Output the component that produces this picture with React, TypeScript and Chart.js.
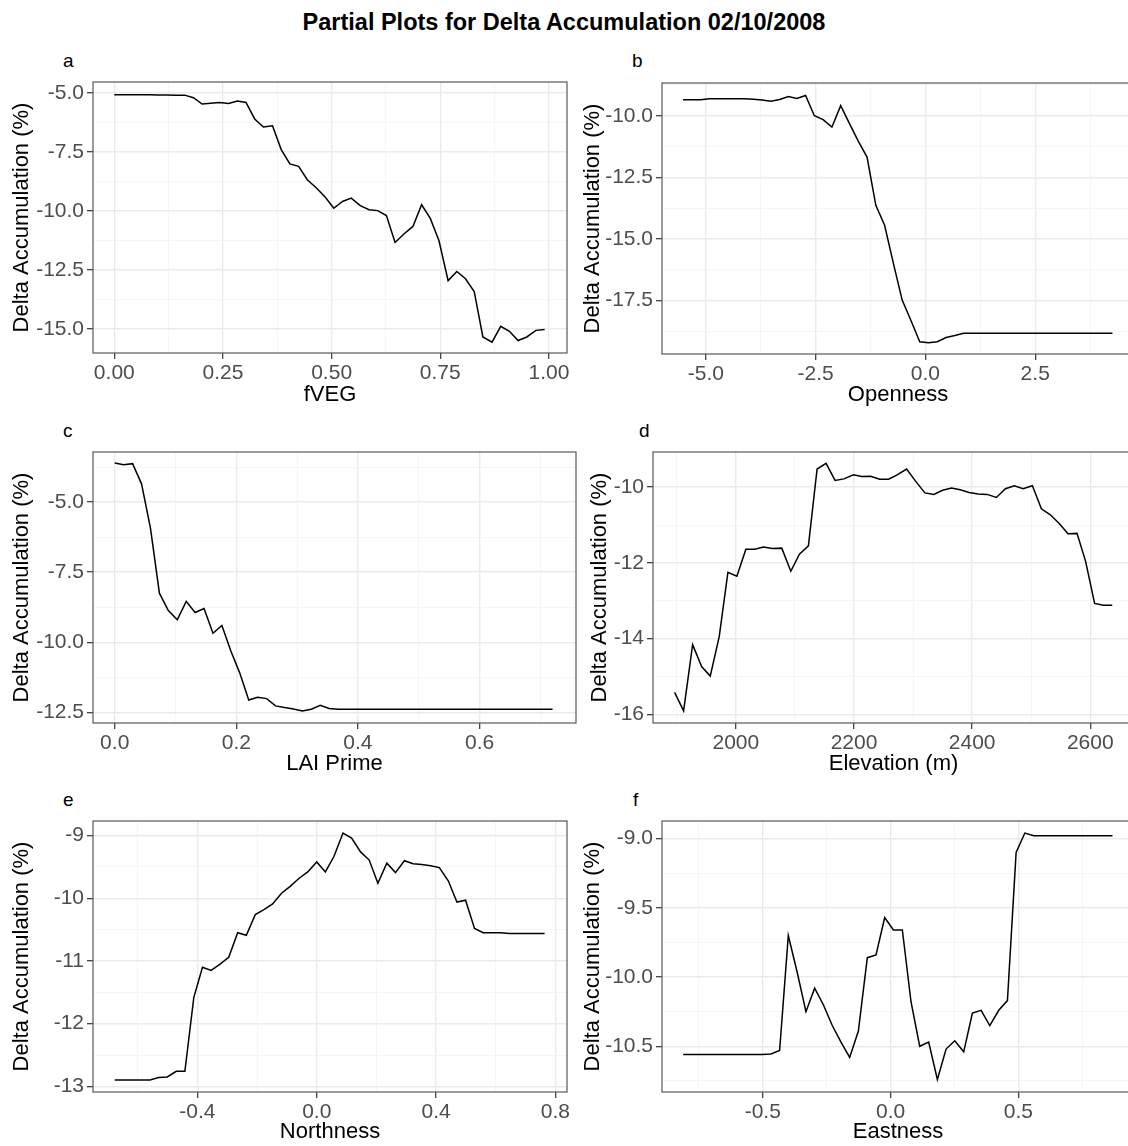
import React, { useEffect, useRef } from "react";
import { Chart, registerables } from "chart.js";
Chart.register(...registerables);

const FONT = '"Liberation Sans", Arial, Helvetica, sans-serif';
const MAIN_TITLE = "Partial Plots for Delta Accumulation 02/10/2008";
const Y_TITLE = "Delta Accumulation (%)";

// a: fVEG
const fvegX = [0, 0.020, 0.040, 0.061, 0.081, 0.101, 0.121, 0.141, 0.162, 0.182, 0.202, 0.222, 0.242, 0.263, 0.283, 0.303, 0.323, 0.343, 0.364, 0.384, 0.404, 0.424, 0.444, 0.465, 0.485, 0.505, 0.525, 0.545, 0.566, 0.586, 0.606, 0.626, 0.646, 0.667, 0.687, 0.707, 0.727, 0.747, 0.768, 0.788, 0.808, 0.828, 0.848, 0.869, 0.889, 0.909, 0.929, 0.949, 0.970, 0.990];
const fvegY = [-5.07, -5.07, -5.07, -5.07, -5.07, -5.08, -5.08, -5.09, -5.09, -5.2, -5.47, -5.43, -5.40, -5.44, -5.34, -5.40, -6.10, -6.44, -6.39, -7.40, -8.01, -8.11, -8.68, -9.03, -9.41, -9.89, -9.60, -9.46, -9.78, -9.95, -9.99, -10.20, -11.34, -10.97, -10.66, -9.74, -10.32, -11.27, -12.96, -12.57, -12.88, -13.42, -15.35, -15.57, -14.90, -15.11, -15.50, -15.35, -15.07, -15.03];
const fvegXTicks = [0, 0.25, 0.5, 0.75, 1.0];
const fvegYTicks = [-15, -12.5, -10, -7.5, -5];

// b: Openness
const openX = [-5.52, -5.32, -5.12, -4.92, -4.72, -4.52, -4.32, -4.12, -3.92, -3.72, -3.52, -3.32, -3.12, -2.93, -2.73, -2.53, -2.33, -2.13, -1.93, -1.73, -1.53, -1.33, -1.13, -0.93, -0.73, -0.53, -0.33, -0.13, 0.07, 0.27, 0.47, 0.67, 0.87, 1.07, 1.27, 1.47, 1.67, 1.87, 2.07, 2.27, 2.47, 2.67, 2.87, 3.07, 3.27, 3.47, 3.67, 3.87, 4.07, 4.26];
const openY = [-9.35, -9.35, -9.35, -9.31, -9.31, -9.31, -9.31, -9.31, -9.33, -9.36, -9.41, -9.34, -9.22, -9.30, -9.18, -10.0, -10.16, -10.46, -9.59, -10.32, -11.03, -11.68, -13.64, -14.45, -16.0, -17.49, -18.32, -19.18, -19.22, -19.18, -19.01, -18.93, -18.84, -18.84, -18.84, -18.84, -18.84, -18.84, -18.84, -18.84, -18.84, -18.84, -18.84, -18.84, -18.84, -18.84, -18.84, -18.84, -18.84, -18.84];
const openXTicks = [-5, -2.5, 0, 2.5];
const openYTicks = [-17.5, -15, -12.5, -10];

// c: LAI Prime
const laiX = [0, 0.0147, 0.0294, 0.0441, 0.0588, 0.0735, 0.0882, 0.1029, 0.1176, 0.1322, 0.1469, 0.1616, 0.1763, 0.1910, 0.2057, 0.2204, 0.2351, 0.2498, 0.2645, 0.2792, 0.2939, 0.3086, 0.3233, 0.3380, 0.3527, 0.3673, 0.3820, 0.3967, 0.4114, 0.4261, 0.4408, 0.4555, 0.4702, 0.4849, 0.4996, 0.5143, 0.5290, 0.5437, 0.5584, 0.5731, 0.5878, 0.6024, 0.6171, 0.6318, 0.6465, 0.6612, 0.6759, 0.6906, 0.7053, 0.7200];
const laiY = [-3.61, -3.67, -3.63, -4.35, -5.93, -8.25, -8.87, -9.20, -8.54, -8.94, -8.80, -9.68, -9.40, -10.31, -11.10, -12.06, -11.96, -12.01, -12.27, -12.33, -12.38, -12.45, -12.39, -12.25, -12.36, -12.39, -12.39, -12.39, -12.39, -12.39, -12.39, -12.39, -12.39, -12.39, -12.39, -12.39, -12.39, -12.39, -12.39, -12.39, -12.39, -12.39, -12.39, -12.39, -12.39, -12.39, -12.39, -12.39, -12.39, -12.39];
const laiXTicks = [0, 0.2, 0.4, 0.6];
const laiYTicks = [-12.5, -10, -7.5, -5];

// d: Elevation
const elevX = [1896.3, 1911.5, 1926.8, 1942, 1956.6, 1971.8, 1986.5, 2001.7, 2016.9, 2032.1, 2046.8, 2062, 2077.7, 2093, 2107.6, 2122.8, 2137.5, 2152.7, 2167.9, 2183.1, 2198.9, 2213, 2228.2, 2243.4, 2258.6, 2273.8, 2289, 2304.2, 2320, 2335.2, 2349.9, 2365, 2379.7, 2394.9, 2410.1, 2425.4, 2441.1, 2456.3, 2471.5, 2486.2, 2502, 2517.2, 2532.4, 2547, 2562.3, 2577.5, 2592.1, 2607.3, 2622, 2637.2];
const elevY = [-15.42, -15.91, -14.16, -14.74, -14.99, -13.95, -12.25, -12.35, -11.64, -11.64, -11.58, -11.62, -11.61, -12.22, -11.77, -11.55, -9.52, -9.37, -9.82, -9.78, -9.67, -9.72, -9.71, -9.79, -9.79, -9.67, -9.52, -9.84, -10.15, -10.19, -10.08, -10.02, -10.07, -10.14, -10.18, -10.19, -10.27, -10.04, -9.96, -10.04, -9.96, -10.57, -10.73, -10.95, -11.23, -11.22, -11.96, -13.07, -13.12, -13.12];
const elevXTicks = [2000, 2200, 2400, 2600];
const elevYTicks = [-16, -14, -12, -10];

// e: Northness
const northX = [-0.677, -0.648, -0.618, -0.589, -0.559, -0.530, -0.501, -0.471, -0.442, -0.412, -0.383, -0.354, -0.324, -0.295, -0.265, -0.236, -0.206, -0.177, -0.148, -0.118, -0.089, -0.059, -0.030, 0.000, 0.029, 0.058, 0.088, 0.117, 0.147, 0.176, 0.205, 0.235, 0.264, 0.294, 0.323, 0.352, 0.382, 0.411, 0.441, 0.470, 0.499, 0.529, 0.558, 0.588, 0.617, 0.646, 0.676, 0.705, 0.735, 0.764];
const northY = [-12.9, -12.9, -12.9, -12.9, -12.9, -12.86, -12.85, -12.76, -12.76, -11.58, -11.10, -11.15, -11.05, -10.94, -10.55, -10.59, -10.26, -10.18, -10.09, -9.92, -9.81, -9.68, -9.58, -9.42, -9.58, -9.33, -8.96, -9.04, -9.26, -9.39, -9.76, -9.44, -9.59, -9.40, -9.45, -9.46, -9.48, -9.51, -9.72, -10.06, -10.03, -10.48, -10.55, -10.55, -10.55, -10.56, -10.56, -10.56, -10.56, -10.56];
const northXTicks = [-0.4, 0, 0.4, 0.8];
const northYTicks = [-13, -12, -11, -10, -9];

// f: Eastness
const eastX = [-0.811, -0.777, -0.742, -0.708, -0.674, -0.640, -0.605, -0.571, -0.537, -0.503, -0.468, -0.434, -0.400, -0.366, -0.331, -0.297, -0.263, -0.228, -0.194, -0.160, -0.126, -0.091, -0.057, -0.023, 0.011, 0.046, 0.080, 0.114, 0.149, 0.183, 0.217, 0.251, 0.286, 0.320, 0.354, 0.388, 0.423, 0.457, 0.491, 0.525, 0.560, 0.594, 0.628, 0.662, 0.697, 0.731, 0.765, 0.799, 0.834, 0.868];
const eastY = [-10.56, -10.56, -10.56, -10.56, -10.56, -10.56, -10.56, -10.56, -10.56, -10.56, -10.555, -10.53, -9.70, -9.96, -10.25, -10.08, -10.20, -10.35, -10.47, -10.58, -10.39, -9.86, -9.84, -9.57, -9.66, -9.66, -10.18, -10.50, -10.47, -10.74, -10.52, -10.46, -10.54, -10.26, -10.24, -10.35, -10.24, -10.17, -9.10, -8.96, -8.98, -8.98, -8.98, -8.98, -8.98, -8.98, -8.98, -8.98, -8.98, -8.98];
const eastXTicks = [-0.5, 0, 0.5];
const eastYTicks = [-10.5, -10, -9.5, -9];

type Panel = {
  letter: string; letterX: number; letterBase: number;
  xs: number[]; ys: number[]; xTitle: string;
  xMin: number; xMax: number; yMin: number; yMax: number;
  xTicks: number[]; yTicks: number[]; xDec: number; yDec: number;
  L: number; R: number; T: number; B: number; yTitleX: number; xTitleY: number;
};

const PANELS: Panel[] = [
  { letter: "a", letterX: 63, letterBase: 67, xs: fvegX, ys: fvegY, xTitle: "fVEG", xMin: -0.049, xMax: 1.0415, yMin: -16.03, yMax: -4.533, xTicks: fvegXTicks, yTicks: fvegYTicks, xDec: 2, yDec: 1, L: 93, R: 567, T: 82, B: 353, yTitleX: 22, xTitleY: 395 },
  { letter: "b", letterX: 632, letterBase: 67, xs: openX, ys: openY, xTitle: "Openness", xMin: -6.0, xMax: 4.75, yMin: -19.68, yMax: -8.67, xTicks: openXTicks, yTicks: openYTicks, xDec: 1, yDec: 1, L: 662, R: 1134, T: 83, B: 354, yTitleX: 593, xTitleY: 395 },
  { letter: "c", letterX: 63, letterBase: 437, xs: laiX, ys: laiY, xTitle: "LAI Prime", xMin: -0.0357, xMax: 0.7586, yMin: -12.88, yMax: -3.214, xTicks: laiXTicks, yTicks: laiYTicks, xDec: 1, yDec: 1, L: 93, R: 576, T: 452, B: 723, yTitleX: 22, xTitleY: 764 },
  { letter: "d", letterX: 639, letterBase: 437, xs: elevX, ys: elevY, xTitle: "Elevation (m)", xMin: 1859.7, xMax: 2674, yMin: -16.23, yMax: -9.07, xTicks: elevXTicks, yTicks: elevYTicks, xDec: 0, yDec: 0, L: 653, R: 1134, T: 452, B: 723, yTitleX: 600, xTitleY: 764 },
  { letter: "e", letterX: 63, letterBase: 806, xs: northX, ys: northY, xTitle: "Northness", xMin: -0.75, xMax: 0.839, yMin: -13.09, yMax: -8.767, xTicks: northXTicks, yTicks: northYTicks, xDec: 1, yDec: 0, L: 93, R: 567, T: 821, B: 1092, yTitleX: 22, xTitleY: 1132 },
  { letter: "f", letterX: 633, letterBase: 806, xs: eastX, ys: eastY, xTitle: "Eastness", xMin: -0.894, xMax: 0.952, yMin: -10.83, yMax: -8.873, xTicks: eastXTicks, yTicks: eastYTicks, xDec: 1, yDec: 1, L: 662, R: 1134, T: 821, B: 1092, yTitleX: 593, xTitleY: 1132 },
];

const TICK_SIZE = 21;
const TITLE_SIZE = 22;
const TITLE_HALF = (TITLE_SIZE * 1.2) / 2;
const PAD_TOP = 6;
const PAD_RIGHT = 16;

function allTicks(major: number[], min: number, max: number): number[] {
  const step = major[1] - major[0];
  const out: number[] = [];
  for (let v = major[0] - step * 2; v <= max + 1e-9; v += step / 2) {
    if (v >= min - 1e-9) out.push(Math.round(v * 1e6) / 1e6);
  }
  return out;
}
function isMajor(v: number, major: number[]) {
  return major.some((m) => Math.abs(m - v) < 1e-6);
}

const borderPlugin = {
  id: "panelBorder",
  afterDatasetsDraw(chart: any) {
    const { ctx, chartArea } = chart;
    ctx.save();
    ctx.strokeStyle = "#595959";
    ctx.lineWidth = 1.2;
    ctx.strokeRect(chartArea.left, chartArea.top, chartArea.right - chartArea.left, chartArea.bottom - chartArea.top);
    ctx.restore();
  },
};

function axisOpts(major: number[], min: number, max: number, dec: number, size: number, horizontal: boolean, title: string) {
  const ticks = allTicks(major, min, max);
  return {
    type: "linear" as const,
    min, max,
    afterBuildTicks: (scale: any) => { scale.ticks = ticks.map((v) => ({ value: v })); },
    afterFit: (scale: any) => {
      if (horizontal) scale.height = size; else scale.width = size;
      scale.paddingLeft = 0; scale.paddingRight = 0; scale.paddingTop = 0; scale.paddingBottom = 0;
    },
    border: { display: false },
    grid: {
      color: (c: any) => (isMajor(c.tick.value, major) ? "#EBEBEB" : "#F4F4F4"),
      lineWidth: (c: any) => (isMajor(c.tick.value, major) ? 1.4 : 0.8),
      tickColor: (c: any) => (isMajor(c.tick.value, major) ? "#333333" : "rgba(0,0,0,0)"),
      tickLength: 6,
      tickWidth: 1.2,
    },
    ticks: {
      autoSkip: false,
      maxRotation: 0,
      minRotation: 0,
      padding: horizontal ? 2 : 3,
      color: "#4D4D4D",
      font: { family: FONT, size: TICK_SIZE },
      callback: (v: any) => (isMajor(Number(v), major) ? Number(v).toFixed(dec) : ""),
    },
    title: {
      display: true,
      text: title,
      color: "#000000",
      padding: 0,
      font: { family: FONT, size: TITLE_SIZE, lineHeight: 1.2 },
    },
  };
}

function PanelChart({ p }: { p: Panel }) {
  const ref = useRef<HTMLCanvasElement>(null);
  const left = Math.round(p.yTitleX - TITLE_HALF);
  const top = p.T - PAD_TOP;
  const right = p.R + PAD_RIGHT;
  const bottom = Math.round(p.xTitleY + TITLE_HALF);
  const width = right - left;
  const height = bottom - top;
  useEffect(() => {
    if (!ref.current) return;
    const data = p.xs.map((x, i) => ({ x, y: p.ys[i] }));
    const chart = new Chart(ref.current, {
      type: "line",
      data: {
        datasets: [{ data, borderColor: "#000000", borderWidth: 1.5, pointRadius: 0, tension: 0, fill: false }],
      },
      options: {
        animation: false,
        responsive: false,
        maintainAspectRatio: false,
        devicePixelRatio: 1,
        layout: { padding: { top: PAD_TOP, right: PAD_RIGHT, left: 0, bottom: 0 } },
        plugins: { legend: { display: false }, tooltip: { enabled: false } },
        scales: {
          x: { ...axisOpts(p.xTicks, p.xMin, p.xMax, p.xDec, bottom - p.B, true, p.xTitle), position: "bottom" },
          y: { ...axisOpts(p.yTicks, p.yMin, p.yMax, p.yDec, p.L - left, false, Y_TITLE), position: "left" },
        },
      } as any,
      plugins: [borderPlugin],
    });
    return () => chart.destroy();
  }, []);
  return (
    <canvas
      ref={ref}
      width={width}
      height={height}
      style={{ position: "absolute", left, top, width, height }}
    />
  );
}

export default function App() {
  return (
    <div style={{ position: "absolute", left: 0, top: 0, width: 1128, height: 1146, overflow: "hidden", background: "#ffffff", fontFamily: FONT }}>
      <div style={{ position: "absolute", left: 0, top: 10.5, width: 1128, textAlign: "center", fontSize: 23.5, fontWeight: "bold", lineHeight: 1, color: "#000" }}>
        {MAIN_TITLE}
      </div>
      {PANELS.map((p) => (
        <div key={p.letter + "l"} style={{ position: "absolute", left: p.letterX, top: p.letterBase - 16.1, fontSize: 19, lineHeight: 1, color: "#000" }}>
          {p.letter}
        </div>
      ))}
      {PANELS.map((p) => (
        <PanelChart key={p.letter} p={p} />
      ))}
    </div>
  );
}
